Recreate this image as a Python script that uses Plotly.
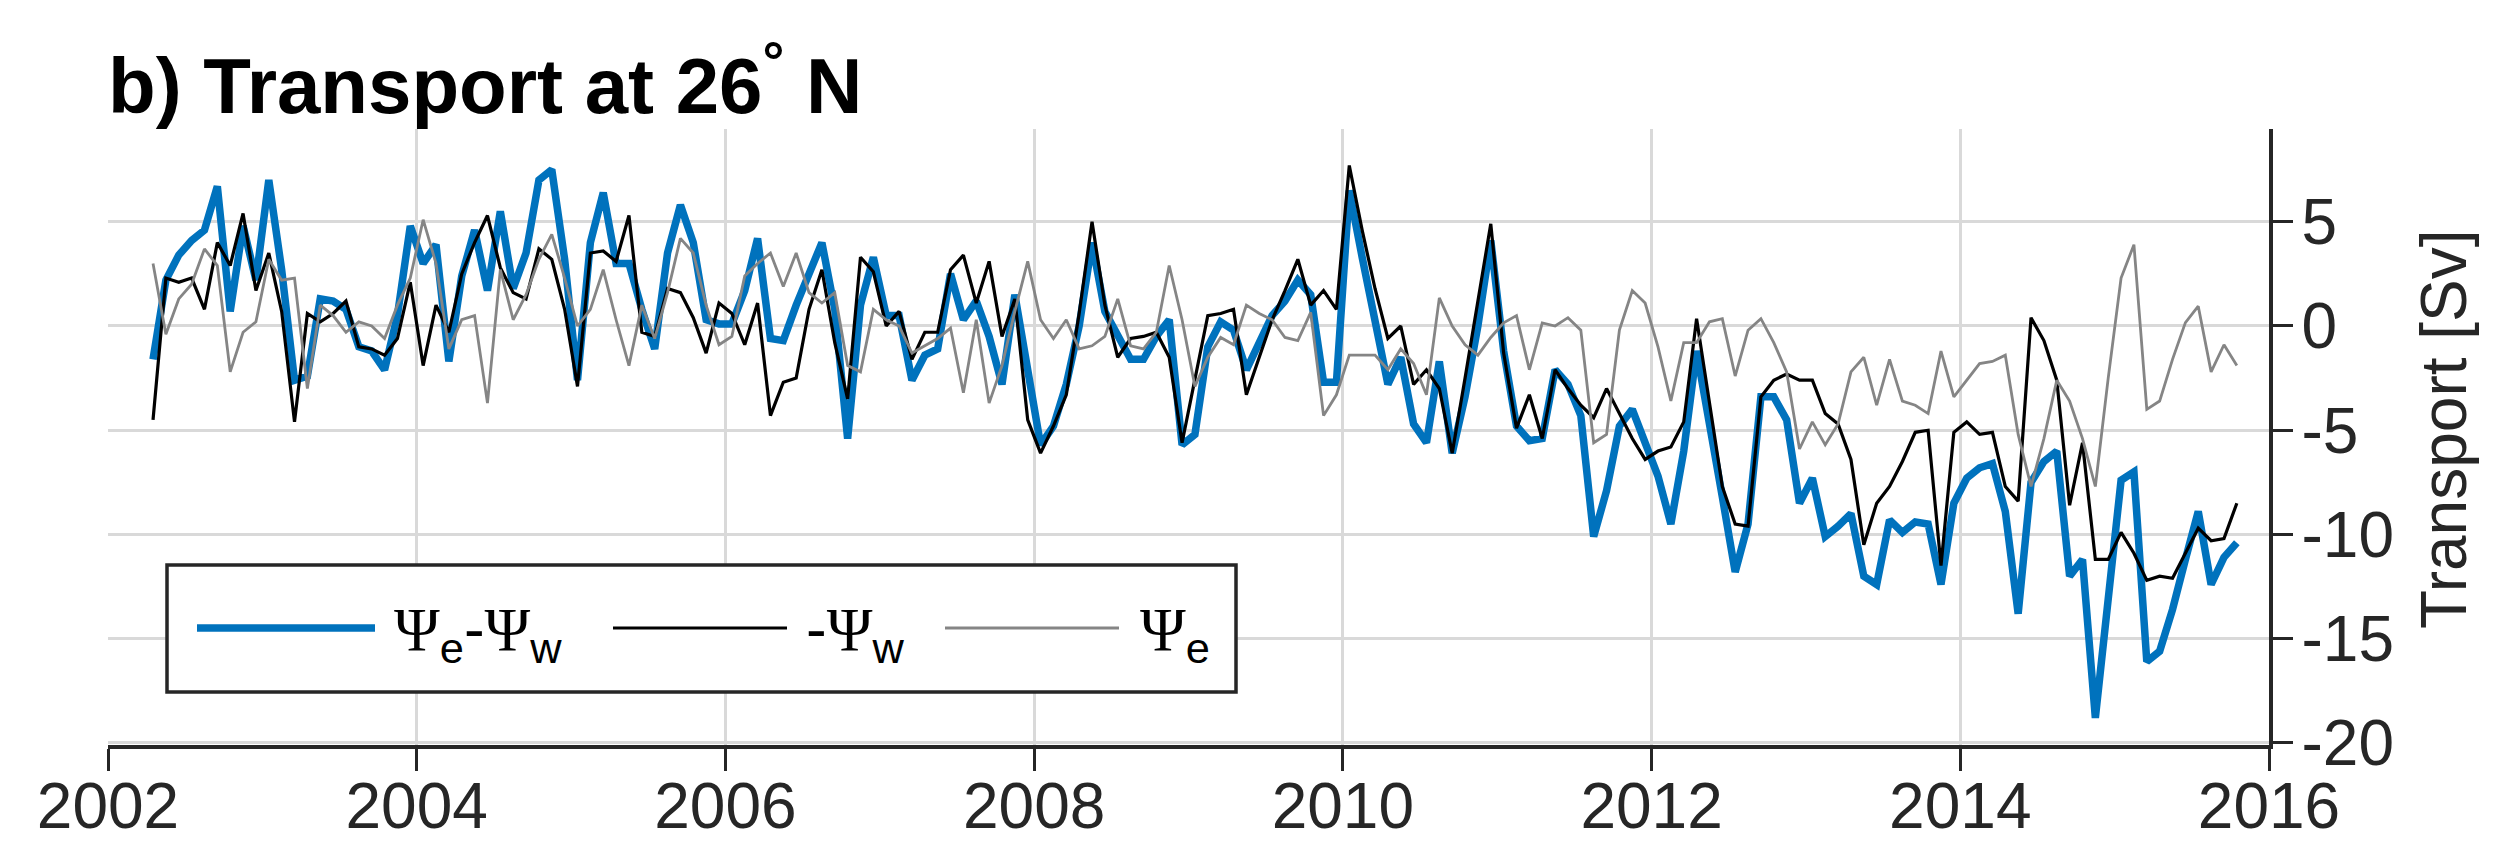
import plotly.graph_objects as go

# Monthly samples, mid-April 2002 .. mid-October 2015 (163 months)
FIRST_SAMPLE_YEAR = 2002 + 3.5 / 12
STEP_YEARS = 1 / 12

# Psi_e - Psi_w (thick blue)
psi_e_minus_psi_w = [
    -1.6, 2.2, 3.4, 4.1, 4.6, 6.7, 0.7, 4.8, 2.2, 7.0, 2.7, -2.6, -2.4, 1.3, 1.2, 0.8,
    -1.0, -1.2, -2.1, 0.5, 4.8, 3.0, 3.9, -1.7, 2.4, 4.6, 1.7, 5.5, 1.8, 3.5, 7.0, 7.5,
    3.2, -2.6, 4.0, 6.4, 3.0, 3.0, 0.8, -1.1, 3.5, 5.8, 4.0, 0.3, 0.1, 0.1, 1.7, 4.2,
    -0.6, -0.7, 1.0, 2.5, 4.0, 0.8, -5.4, 1.0, 3.3, 0.5, 0.5, -2.6, -1.4, -1.1, 2.5, 0.3,
    1.2, -0.5, -2.8, 1.5, -2.0, -5.7, -4.8, -2.8, 0.0, 4.0, 0.7, -0.5, -1.6, -1.6, -0.5, 0.3,
    -5.7, -5.2, -1.0, 0.2, -0.2, -2.1, -0.8, 0.5, 1.2, 2.2, 1.5, -2.7, -2.7, 6.5, 3.3, 0.4,
    -2.8, -1.5, -4.7, -5.6, -1.7, -6.1, -3.4, 0.0, 4.1, -1.2, -4.8, -5.5, -5.4, -2.1, -2.8, -4.3,
    -10.1, -7.9, -4.8, -4.0, -5.6, -7.2, -9.5, -6.0, -1.2, -4.5, -8.2, -11.8, -9.5, -3.4, -3.4, -4.5,
    -8.5, -7.3, -10.1, -9.6, -9.0, -12.0, -12.4, -9.3, -9.9, -9.4, -9.5, -12.4, -8.5, -7.3, -6.8, -6.6,
    -8.9, -13.8, -7.5, -6.5, -6.0, -12.0, -11.2, -18.8, -13.0, -7.4, -7.0, -16.1, -15.6, -13.6, -11.2, -8.9,
    -12.4, -11.1, -10.4,
]

# -Psi_w (black)
minus_psi_w = [
    -4.5, 2.3, 2.1, 2.3, 0.8, 4.0, 2.9, 5.4, 1.7, 3.5, 0.7, -4.6, 0.6, 0.2, 0.6, 1.2,
    -1.0, -1.1, -1.4, -0.6, 2.1, -1.9, 1.0, -0.3, 2.5, 4.0, 5.3, 2.8, 1.6, 1.3, 3.7, 3.2,
    0.8, -2.9, 3.5, 3.6, 3.1, 5.3, -0.3, -0.5, 1.8, 1.6, 0.4, -1.3, 1.1, 0.6, -0.9, 1.1,
    -4.3, -2.7, -2.5, 0.8, 2.7, -0.8, -3.5, 3.3, 2.6, 0.0, 0.7, -1.6, -0.3, -0.3, 2.7, 3.4,
    1.1, 3.1, -0.5, 1.3, -4.5, -6.1, -4.8, -3.3, 0.6, 5.0, 1.0, -1.5, -0.6, -0.5, -0.3, -1.5,
    -5.6, -2.5, 0.5, 0.6, 0.8, -3.3, -1.5, 0.3, 1.7, 3.2, 1.0, 1.7, 0.8, 7.7, 4.6, 1.8,
    -0.6, 0.0, -2.8, -2.1, -3.0, -6.1, -2.5, 1.2, 4.9, -1.3, -4.9, -3.3, -5.4, -2.1, -3.0, -3.8,
    -4.4, -3.0, -4.2, -5.4, -6.4, -6.0, -5.8, -4.6, 0.35, -3.8, -7.7, -9.5, -9.6, -3.4, -2.6, -2.3,
    -2.6, -2.6, -4.2, -4.7, -6.4, -10.5, -8.5, -7.7, -6.5, -5.1, -5.0, -11.5, -5.1, -4.6, -5.2, -5.1,
    -7.7, -8.4, 0.4, -0.7, -2.6, -8.6, -5.6, -11.2, -11.2, -9.9, -10.9, -12.2, -12.0, -12.1, -10.9, -9.7,
    -10.3, -10.2, -8.5,
]

# Psi_e (grey)
psi_e = [
    3.0, -0.4, 1.3, 2.0, 3.7, 2.9, -2.2, -0.3, 0.2, 3.2, 2.2, 2.3, -3.0, 1.0, 0.5, -0.3,
    0.2, 0.0, -0.6, 1.0, 2.3, 5.1, 3.0, -1.1, 0.3, 0.5, -3.7, 2.7, 0.3, 1.5, 3.2, 4.4,
    2.3, 0.0, 0.8, 2.7, 0.3, -1.9, 1.0, -0.6, 1.6, 4.2, 3.5, 1.0, -0.9, -0.5, 2.4, 3.0,
    3.5, 1.9, 3.5, 1.6, 1.1, 1.6, -1.9, -2.2, 0.8, 0.3, 0.0, -1.3, -0.95, -0.6, -0.1, -3.2,
    0.3, -3.7, -1.9, 0.7, 3.1, 0.3, -0.6, 0.3, -1.1, -0.95, -0.5, 1.3, -0.95, -1.1, -0.3, 2.9,
    0.3, -2.9, -1.5, -0.55, -0.9, 1.0, 0.6, 0.3, -0.55, -0.7, 0.65, -4.3, -3.3, -1.4, -1.4, -1.4,
    -2.1, -1.1, -1.8, -3.3, 1.35, 0.0, -0.9, -1.4, -0.55, 0.15, 0.5, -2.1, 0.15, 0.0, 0.4, -0.2,
    -5.6, -5.2, -0.2, 1.7, 1.1, -1.0, -3.6, -0.8, -0.8, 0.2, 0.35, -2.4, -0.2, 0.35, -0.8, -2.2,
    -5.9, -4.6, -5.7, -4.7, -2.2, -1.5, -3.8, -1.6, -3.6, -3.8, -4.2, -1.2, -3.4, -2.6, -1.8, -1.7,
    -1.4, -5.2, -7.7, -5.4, -2.6, -3.6, -5.4, -7.7, -2.5, 2.3, 3.9, -4.0, -3.6, -1.6, 0.16, 0.95,
    -2.2, -0.9, -1.9,
]

x_tick_vals = [2002, 2004, 2006, 2008, 2010, 2012, 2014, 2016]
x_tick_text = ["2002", "2004", "2006", "2008", "2010", "2012", "2014", "2016"]
y_tick_vals = [5, 0, -5, -10, -15, -20]
y_tick_text = ["5", "0", "-5", "-10", "-15", "-20"]

years = [FIRST_SAMPLE_YEAR + i * STEP_YEARS for i in range(len(psi_e_minus_psi_w))]

BLUE = "#0072BD"
GREY = "#858585"
AXIS = "#262626"
GRID = "#d9d9d9"
FONT = "Liberation Sans, Arial, Helvetica, sans-serif"
SERIF = "Liberation Serif, Times New Roman, serif"

fig = go.Figure()
fig.add_trace(go.Scatter(x=years, y=psi_e_minus_psi_w, mode="lines",
                         line=dict(color=BLUE, width=7.5), showlegend=False))
fig.add_trace(go.Scatter(x=years, y=minus_psi_w, mode="lines",
                         line=dict(color="#000000", width=3.2), showlegend=False))
fig.add_trace(go.Scatter(x=years, y=psi_e, mode="lines",
                         line=dict(color=GREY, width=2.8), showlegend=False))

W, H = 2494, 843
L, R, T, B = 100, 233, 121, 106
pw, ph = W - L - R, H - T - B


def px_x(p):
    return (p - L) / pw


def px_y(p):
    return (H - B - p) / ph


fig.update_layout(
    width=W, height=H,
    margin=dict(l=L, r=R, t=T, b=B, autoexpand=False),
    paper_bgcolor="white", plot_bgcolor="white",
    font=dict(family=FONT, color=AXIS, size=64),
    title=dict(text="b) Transport at 26<sup>°</sup> N",
               font=dict(family=FONT, size=78, color="#000000", weight="bold"),
               x=L / W, xanchor="left", xref="container",
               y=1 - 78 / H, yanchor="middle", yref="container"),
    showlegend=False,
)

fig.update_xaxes(range=[2002, 2016], tickmode="array", tickvals=x_tick_vals, ticktext=x_tick_text,
                 showgrid=True, gridcolor=GRID, gridwidth=2.5, zeroline=False,
                 showline=True, linecolor=AXIS, linewidth=3.5, automargin=False,
                 ticks="outside", ticklen=22, tickwidth=3, tickcolor=AXIS,
                 tickfont=dict(size=64, color=AXIS, family=FONT), ticklabelstandoff=-20)
fig.update_yaxes(range=[-20.1, 9.45], side="right", tickmode="array",
                 tickvals=y_tick_vals, ticktext=y_tick_text,
                 showgrid=True, gridcolor=GRID, gridwidth=2.5, zeroline=False,
                 showline=True, linecolor=AXIS, linewidth=3.5, automargin=False,
                 ticks="outside", ticklen=20, tickwidth=3, tickcolor=AXIS,
                 tickfont=dict(size=64, color=AXIS, family=FONT), ticklabelstandoff=-4)

# y-axis title
fig.add_annotation(text="Transport [Sv]", xref="paper", yref="paper",
                   x=px_x(2436), y=px_y(421), xanchor="center", yanchor="middle",
                   textangle=-90, showarrow=False,
                   font=dict(size=64, color=AXIS, family=FONT))

# Manual legend (MATLAB style with long line samples)
box = dict(x0=px_x(159), x1=px_x(1228), y0=px_y(684), y1=px_y(557))
fig.add_shape(type="rect", xref="paper", yref="paper", **box,
              line=dict(color=AXIS, width=3.5), fillcolor="white", layer="above")
ly = px_y(620)
samples = [((189, 367), BLUE, 7.5), ((605, 779), "#000000", 3.2), ((937, 1111), GREY, 2.8)]
for (a, b), col, w in samples:
    fig.add_shape(type="line", xref="paper", yref="paper", x0=px_x(a), x1=px_x(b), y0=ly, y1=ly,
                  line=dict(color=col, width=w), layer="above")

psi = f'<span style="font-family:{SERIF}">Ψ</span>'
labels = [(384, f"{psi}<sub>e</sub>-{psi}<sub>w</sub>"), (796, f"-{psi}<sub>w</sub>"), (1130, f"{psi}<sub>e</sub>")]
for xp, txt in labels:
    fig.add_annotation(text=txt, xref="paper", yref="paper", x=px_x(xp), y=px_y(625),
                       xanchor="left", yanchor="middle", showarrow=False,
                       font=dict(size=62, color="#000000", family=FONT))

fig.write_html("out.html")
